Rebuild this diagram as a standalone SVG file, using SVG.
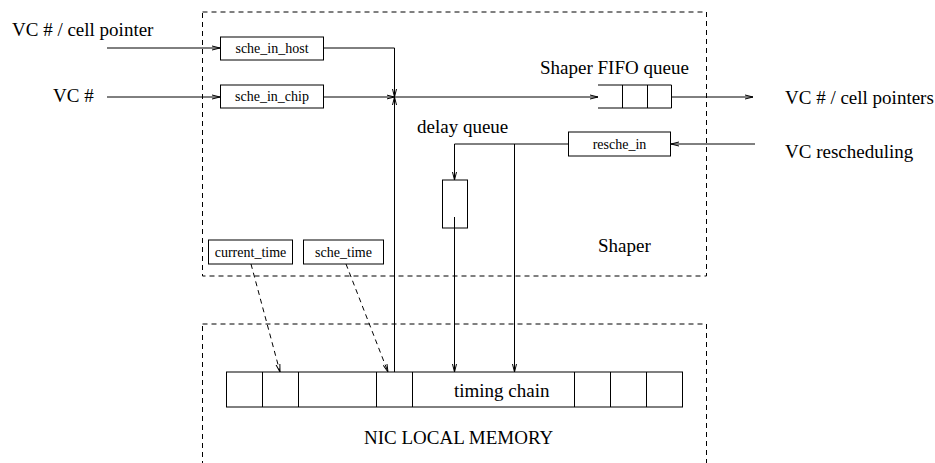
<svg xmlns="http://www.w3.org/2000/svg" width="935" height="463" viewBox="0 0 935 463">
<defs>
<marker id="ah" markerWidth="8" markerHeight="6" viewBox="0 0 8 6" refX="8" refY="3" orient="auto" markerUnits="userSpaceOnUse"><path d="M0,1 L8,3 L0,5" fill="none" stroke="#000" stroke-width="1"/></marker>
</defs>
<style>
.box{fill:#fff;stroke:#000;stroke-width:1}
.frame{fill:none;stroke:#000;stroke-width:1;stroke-dasharray:5 4}
.ln{fill:none;stroke:#000;stroke-width:1}
.arr{marker-end:url(#ah)}
.dash{stroke-dasharray:5 4}
text{font-family:'Liberation Serif','DejaVu Serif',serif;fill:#000}
.lbl{font-size:19px}
.sm{font-size:14px;text-anchor:middle}
</style>
<rect width="935" height="463" fill="#fff"/>

<g id="shaper">
<rect class="frame" x="202.5" y="12" width="504" height="264"/>
<text class="lbl" x="598" y="252">Shaper</text>
</g>
<g id="nic-local-memory">
<rect class="frame" x="202.5" y="324" width="504" height="170"/>
<text class="lbl" x="364" y="444">NIC LOCAL MEMORY</text>
</g>

<g id="in-cell-pointer"><text class="lbl" x="12" y="36">VC # / cell pointer</text></g>
<g id="in-vc"><text class="lbl" x="53" y="102">VC #</text></g>
<g id="out-cell-pointers"><text class="lbl" x="785" y="104">VC # / cell pointers</text></g>
<g id="in-rescheduling"><text class="lbl" x="785" y="158">VC rescheduling</text></g>

<g id="sche_in_host">
<rect class="box" x="220.5" y="37" width="103" height="23"/>
<text class="sm" x="272" y="53">sche_in_host</text>
</g>
<g id="sche_in_chip">
<rect class="box" x="220.5" y="85" width="103" height="23"/>
<text class="sm" x="272" y="101">sche_in_chip</text>
</g>

<g id="shaper-fifo-queue">
<text class="lbl" x="540" y="74">Shaper FIFO queue</text>
<path class="ln" d="M598,85 H671.5 V108 H598 M622.5,85 V108 M647.5,85 V108"/>
</g>

<g id="resche_in">
<rect class="box" x="568.5" y="132" width="102" height="24"/>
<text class="sm" x="619.5" y="149">resche_in</text>
</g>

<g id="delay-queue">
<text class="lbl" x="417" y="133">delay queue</text>
<rect class="box" x="442.5" y="180" width="25" height="48"/>
</g>

<g id="current_time">
<rect class="box" x="208.5" y="240" width="84" height="24"/>
<text class="sm" x="250.5" y="257">current_time</text>
</g>
<g id="sche_time">
<rect class="box" x="303.5" y="240" width="80" height="24"/>
<text class="sm" x="343.5" y="257">sche_time</text>
</g>

<g id="timing-chain">
<rect class="box" x="226.5" y="372" width="456" height="35"/>
<path class="ln" d="M262.5,372 V407 M298.5,372 V407 M376.5,372 V407 M412.5,372 V407 M574.5,372 V407 M610.5,372 V407 M646.5,372 V407"/>
<text class="lbl" x="454" y="397">timing chain</text>
</g>

<g id="connectors">
<path class="ln arr" d="M107,48 H220"/>
<path class="ln arr" d="M107,97 H220"/>
<path class="ln arr" d="M323.5,48 H394.5 V97"/>
<path class="ln arr" d="M323.5,97 H394.5"/>
<path class="ln arr" d="M394.5,372 V97"/>
<path class="ln arr" d="M394.5,97 H598"/>
<path class="ln arr" d="M671.5,97 H753"/>
<path class="ln arr" d="M755,144 H671"/>
<path class="ln arr" d="M568,144 H454.5 V180"/>
<path class="ln arr" d="M514.5,144 V372"/>
<path class="ln arr" d="M454.5,217 V372"/>
<path class="ln arr dash" d="M251,264 L280,372"/>
<path class="ln arr dash" d="M346,264 L388,372"/>
</g>
</svg>
